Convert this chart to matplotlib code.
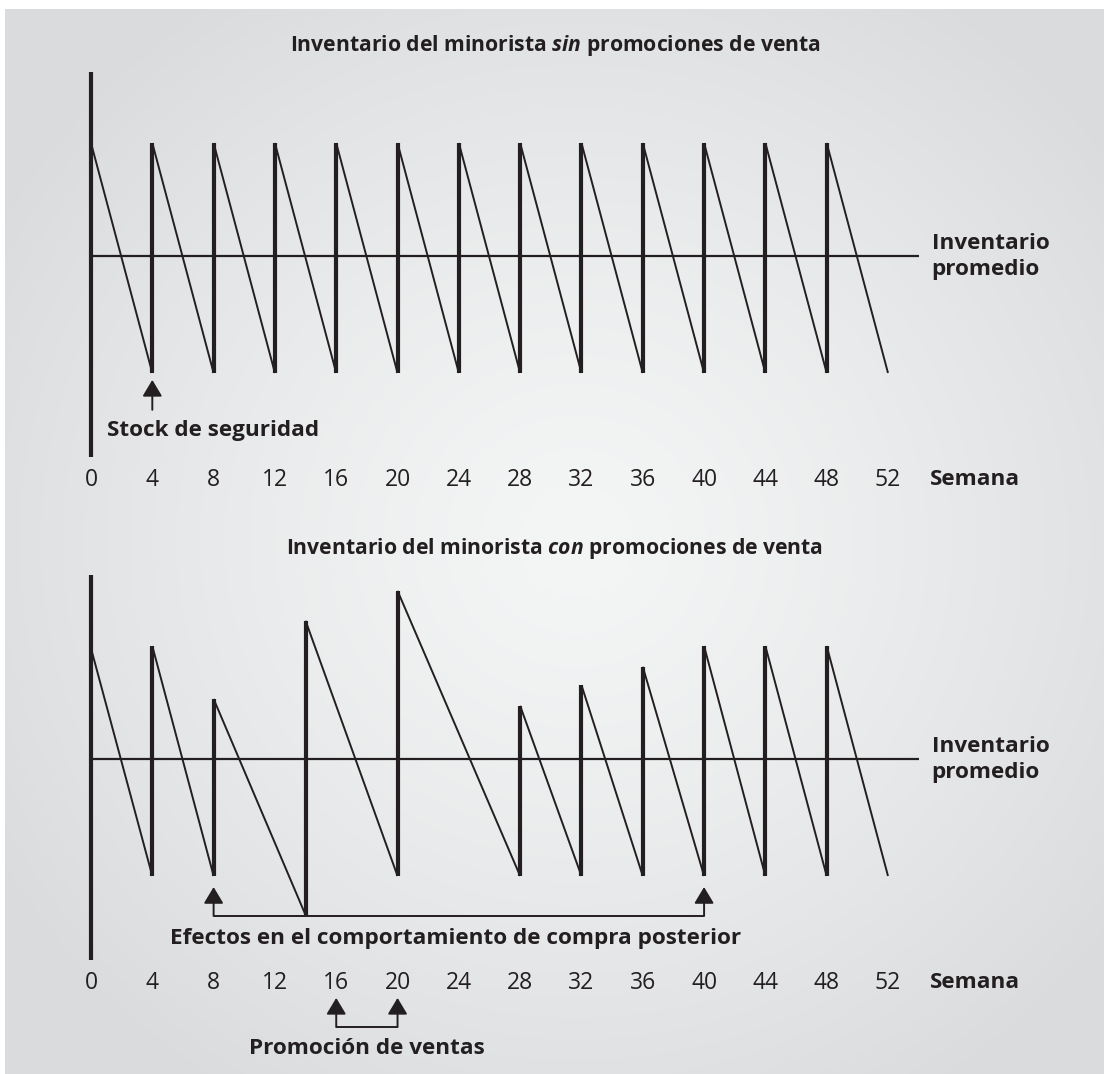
import numpy as np
import matplotlib
matplotlib.use("Agg")
import matplotlib.pyplot as plt

plt.rcParams['font.family'] = ['Open Sans', 'DejaVu Sans']
plt.rcParams['mathtext.fontset'] = 'custom'
plt.rcParams['mathtext.it'] = 'Open Sans:italic:bold'
plt.rcParams['mathtext.rm'] = 'Open Sans:bold'

INK = '#231f20'

# ---------------- data ----------------
tick_weeks = [0, 4, 8, 12, 16, 20, 24, 28, 32, 36, 40, 44, 48, 52]
end_week = 52

# top: without promotions
top_order_weeks = [0, 4, 8, 12, 16, 20, 24, 28, 32, 36, 40, 44, 48]
top_peaks = [100, 100, 100, 100, 100, 100, 100, 100, 100, 100, 100, 100, 100]
top_troughs = [0, 0, 0, 0, 0, 0, 0, 0, 0, 0, 0, 0, 0]

# bottom: with promotions
bot_order_weeks = [0, 4, 8, 14, 20, 28, 32, 36, 40, 44, 48]
bot_peaks = [99, 100, 77, 111, 124, 74, 83, 91, 100, 100, 100]
bot_troughs = [0, 0, -17, 0, 0, 0, 0, 0, 0, 0, 0]

average_level = 51
safety_week = 4
effect_weeks = [8, 40]
promo_weeks = [16, 20]

title_top = "Inventario del minorista $\\mathit{sin}$ promociones de venta"
title_bot = "Inventario del minorista $\\mathit{con}$ promociones de venta"

# ---------------- figure ----------------
W, H = 1104, 1074
fig = plt.figure(figsize=(W / 100, H / 100), dpi=100)
fig.patch.set_facecolor('white')

# background gradient panel
bg = fig.add_axes([5 / W, 0, 1 - 5 / W, 1 - 9 / H])
bg.set_axis_off()
ny, nx = 400, 400
yy, xx = np.mgrid[0:1:ny * 1j, 0:1:nx * 1j]
r = np.sqrt(((xx - 0.52) / 0.62) ** 2 + ((yy - 0.50) / 0.62) ** 2)
t = np.clip(r, 0, 1) ** 1.3
c_in = np.array([0.957, 0.961, 0.961])
c_out = np.array([0.855, 0.859, 0.867])
img = c_in[None, None, :] * (1 - t[..., None]) + c_out[None, None, :] * t[..., None]
bg.imshow(img, extent=[0, 1, 0, 1], aspect='auto', origin='upper')
bg.set_xlim(0, 1)
bg.set_ylim(0, 1)

# pixel mapping: week w -> 91 + 15.327 w ; value v -> base_px - 2.3 v
PXW = (888 - 91) / 52
PXV = 2.3
xlim = (-91 / PXW, (W - 91) / PXW)


def make_ax(rect, base_px, top_px, bot_px):
    ax = fig.add_axes(rect)
    ax.set_xlim(*xlim)
    ax.set_ylim((base_px - bot_px) / PXV, (base_px - top_px) / PXV)
    ax.set_axis_off()
    ax.patch.set_alpha(0)
    return ax


ax_top = make_ax([0, 0.5, 1, 0.5], 373, 0, 537)
ax_bot = make_ax([0, 0.0, 1, 0.5], 876 - 537, 0, 537)

FS = 16.2


def draw_panel(ax, weeks, peaks, troughs, title):
    # vertical axis
    ax.plot([0, 0], [-36.5, 131], color=INK, lw=3.0, solid_capstyle='butt')
    # average line
    ax.plot([0, 54.0], [average_level, average_level], color=INK, lw=1.6,
            solid_capstyle='butt')
    n = len(weeks)
    for i in range(n):
        w0 = weeks[i]
        w1 = weeks[i + 1] if i + 1 < n else end_week
        ax.plot([w0, w1], [peaks[i], troughs[i]], color=INK, lw=1.4,
                solid_capstyle='butt')
        if i > 0:
            ax.plot([w0, w0], [troughs[i - 1], peaks[i]], color=INK, lw=3.0,
                    solid_capstyle='butt')
    # tick labels
    for w in tick_weeks:
        ax.text(w, -46.5, str(w), ha='center', va='center', fontsize=16.5,
                color=INK)
    ax.text(54.72, -46.2, "Semana", ha='left', va='center', fontsize=FS,
            fontweight='bold', color=INK)
    ax.text(54.85, average_level - 0.5, "Inventario\npromedio", ha='left',
            va='center', fontsize=FS, fontweight='bold', color=INK,
            linespacing=1.32)
    ax.text(30.27, 142.3, title, ha='center', va='center', fontsize=15.2,
            fontweight='bold', color=INK)


draw_panel(ax_top, top_order_weeks, top_peaks, top_troughs, title_top)
draw_panel(ax_bot, bot_order_weeks, bot_peaks, bot_troughs, title_bot)

arrow_style = '-|>,head_length=1.0,head_width=0.6'

# safety stock arrow (top)
ax_top.annotate('', xy=(safety_week, -3), xytext=(safety_week, -16),
                arrowprops=dict(arrowstyle=arrow_style, color=INK, lw=1.4,
                                shrinkA=0, shrinkB=0, mutation_scale=10))
ax_top.text(1.04, -25.2, "Stock de seguridad", ha='left', va='center',
            fontsize=FS, fontweight='bold', color=INK)

# effects bracket (bottom)
yb = bot_troughs[2]
ax_bot.plot([effect_weeks[0], effect_weeks[1]], [yb - 0.4, yb - 0.4],
            color=INK, lw=1.4, solid_capstyle='butt')
for w in effect_weeks:
    ax_bot.annotate('', xy=(w, -4.8), xytext=(w, yb - 0.4),
                    arrowprops=dict(arrowstyle=arrow_style, color=INK, lw=1.4,
                                    shrinkA=0, shrinkB=0, mutation_scale=10))
ax_bot.text(23.8, -27, "Efectos en el comportamiento de compra posterior",
            ha='center', va='center', fontsize=FS, fontweight='bold',
            color=INK)

# promotion bracket
yp = -65.7
ax_bot.plot([promo_weeks[0], promo_weeks[1]], [yp, yp], color=INK, lw=1.4,
            solid_capstyle='butt')
for w in promo_weeks:
    ax_bot.annotate('', xy=(w, -53), xytext=(w, yp),
                    arrowprops=dict(arrowstyle=arrow_style, color=INK, lw=1.4,
                                    shrinkA=0, shrinkB=0, mutation_scale=10))
ax_bot.text(18.0, -75.2, "Promoción de ventas", ha='center', va='center',
            fontsize=FS, fontweight='bold', color=INK)

fig.savefig("out.png", dpi=100, facecolor='white')
